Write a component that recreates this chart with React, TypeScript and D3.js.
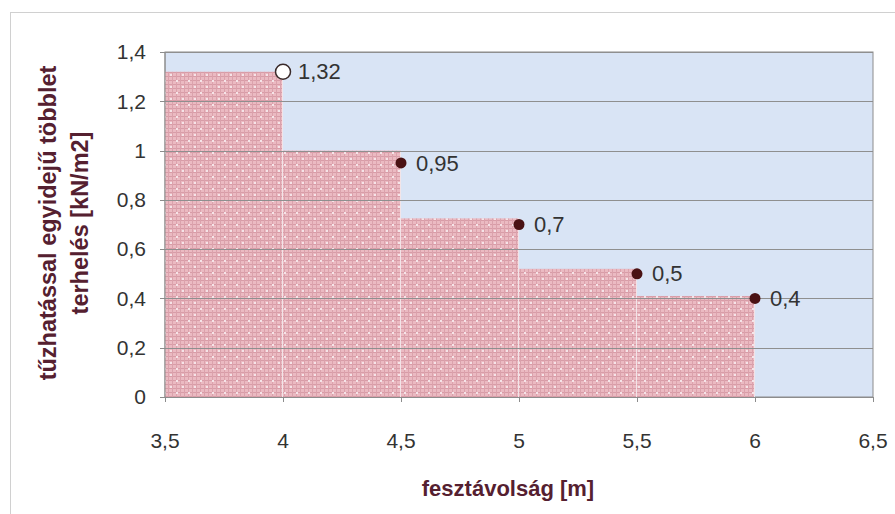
import React from "react";
import * as d3 from "d3";

const xTicks = [3.5, 4, 4.5, 5, 5.5, 6, 6.5];
const yTicks = [0, 0.2, 0.4, 0.6, 0.8, 1, 1.2, 1.4];
const stepStarts = [3.5, 4, 4.5, 5, 5.5];
const stepEnds = [4, 4.5, 5, 5.5, 6];
const stepValues = [1.32, 1.0, 0.725, 0.52, 0.41];
const pointX = [4, 4.5, 5, 5.5, 6];
const pointY = [1.32, 0.95, 0.7, 0.5, 0.4];
const pointOpen = [true, false, false, false, false];
const xTitle = "fesztávolság [m]";
const yTitleLines = ["tűzhatással egyidejű többlet", "terhelés [kN/m2]"];

const locale = d3.formatLocale({ decimal: ",", thousands: " ", grouping: [3], currency: ["", ""] });
const fmt = (v: number) => locale.format("~g")(v);

export default function App() {
  const W = 895, H = 514;
  const x = d3.scaleLinear().domain([3.5, 6.5]).range([165, 873]);
  const y = d3.scaleLinear().domain([0, 1.4]).range([397, 52]);
  const textColor = "#333333";
  const titleColor = "#552030";
  const font = "Arial, 'Liberation Sans', sans-serif";

  return (
    <svg width={W} height={H} style={{ position: "absolute", left: 0, top: 0, background: "#fff" }} fontFamily={font}>
      <defs>
        <pattern id="pinkdots" width="4" height="4" patternUnits="userSpaceOnUse">
          <rect width="4" height="4" fill="#ebbac2" />
          <rect x="0" y="0" width="4" height="1" fill="#d89ca7" />
          <rect x="0" y="0" width="1" height="4" fill="#dba2ac" />
        </pattern>
        <pattern id="whitedots" width="12" height="12" patternUnits="userSpaceOnUse">
          <rect x="2" y="2" width="2" height="2" fill="#f5e4e8" />
          <rect x="8" y="8" width="2" height="2" fill="#f5e4e8" />
        </pattern>
      </defs>
      <rect x={10.5} y={12.5} width={900} height={520} fill="#fff" stroke="#d0d0d0" />
      <rect x={x(3.5)} y={y(1.4)} width={x(6.5) - x(3.5)} height={y(0) - y(1.4)} fill="#d9e4f5" stroke="#8c8c8c" />
      {stepValues.map((v, i) => (
        <g key={i}>
          <rect x={x(stepStarts[i])} y={y(v)} width={x(stepEnds[i]) - x(stepStarts[i])} height={y(0) - y(v)} fill="url(#pinkdots)" />
          <rect x={x(stepStarts[i])} y={y(v)} width={x(stepEnds[i]) - x(stepStarts[i])} height={y(0) - y(v)} fill="url(#whitedots)" />
          <line x1={x(stepEnds[i]) - 0.5} x2={x(stepEnds[i]) - 0.5} y1={y(v)} y2={y(0)} stroke="#f2e4e8" strokeWidth={1} />
        </g>
      ))}
      {yTicks.slice(1).map((t) => (
        <line key={t} x1={x(3.5)} x2={x(6.5)} y1={Math.round(y(t)) + 0.5} y2={Math.round(y(t)) + 0.5} stroke="#8f8f8f" strokeWidth={1} />
      ))}
      <line x1={x(3.5)} x2={x(3.5)} y1={y(0)} y2={y(1.4)} stroke="#8c8c8c" />
      <line x1={x(3.5)} x2={x(6.5)} y1={y(0) + 0.5} y2={y(0) + 0.5} stroke="#8c8c8c" />
      {yTicks.map((t) => (
        <g key={"yt" + t}>
          <line x1={x(3.5) - 5} x2={x(3.5)} y1={Math.round(y(t)) + 0.5} y2={Math.round(y(t)) + 0.5} stroke="#8c8c8c" />
          <text x={146} y={y(t)} dy="0.35em" textAnchor="end" fontSize={21} fill={textColor}>{fmt(t)}</text>
        </g>
      ))}
      {xTicks.map((t) => (
        <g key={"xt" + t}>
          <line x1={Math.round(x(t)) + 0.5} x2={Math.round(x(t)) + 0.5} y1={y(0)} y2={y(0) + 5} stroke="#8c8c8c" />
          <text x={x(t)} y={448} textAnchor="middle" fontSize={21} fill={textColor}>{fmt(t)}</text>
        </g>
      ))}
      {pointX.map((px, i) => (
        <g key={"p" + i}>
          {pointOpen[i] ? (
            <circle cx={x(px)} cy={y(pointY[i])} r={7.5} fill="#ffffff" stroke="#3a2a2a" strokeWidth={1.5} />
          ) : (
            <circle cx={x(px)} cy={y(pointY[i])} r={5.5} fill="#4a1214" />
          )}
          <text x={x(px) + 15} y={y(pointY[i])} dy="0.35em" fontSize={22} fill={textColor}>{fmt(pointY[i])}</text>
        </g>
      ))}
      <text x={508} y={496} textAnchor="middle" fontSize={22} fontWeight="bold" fill={titleColor}>{xTitle}</text>
      {yTitleLines.map((l, i) => (
        <text key={l} transform={`translate(${56 + i * 32},223) rotate(-90)`} textAnchor="middle" fontSize={23.5} fontWeight="bold" fill={titleColor}>{l}</text>
      ))}
    </svg>
  );
}
